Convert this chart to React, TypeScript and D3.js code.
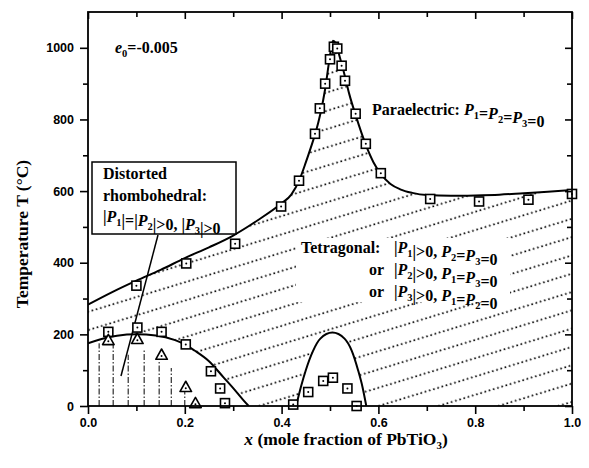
import React, { useEffect, useRef } from "react";
import * as d3 from "d3";

// upper transition line (paraelectric boundary), x, T
const upperX = [0, 0.05, 0.1, 0.15, 0.2, 0.25, 0.3, 0.35, 0.4, 0.42, 0.437, 0.45, 0.46, 0.47, 0.48, 0.49, 0.498, 0.506, 0.512, 0.52, 0.53, 0.54, 0.553, 0.574, 0.59, 0.605, 0.625, 0.645, 0.67, 0.7, 0.75, 0.8, 0.85, 0.9, 0.95, 1.0];
const upperT = [283, 318, 350, 380, 413, 443, 476, 518, 566, 590, 632, 680, 720, 762, 815, 885, 960, 1020, 1012, 975, 925, 870, 812, 729, 680, 648, 620, 605, 595, 589, 587, 588, 590, 594, 598, 603];

// rhombohedral boundary (left), x, T
const rhomboX = [0, 0.03, 0.06, 0.1, 0.14, 0.18, 0.2, 0.22, 0.25, 0.28, 0.3, 0.32, 0.332];
const rhomboT = [175, 188, 196, 200, 197, 184, 172, 155, 125, 80, 50, 18, 0];

// second bump around x=0.5
const bumpX = [0.43, 0.44, 0.45, 0.465, 0.48, 0.505, 0.53, 0.545, 0.558, 0.567, 0.575];
const bumpT = [0, 54, 100, 154, 188, 205, 188, 154, 100, 54, 0];

// simulated points (squares)
const sqX = [0.1, 0.203, 0.304, 0.399, 0.436, 0.469, 0.479, 0.49, 0.5, 0.508, 0.515, 0.524, 0.531, 0.553, 0.574, 0.605, 0.707, 0.808, 0.91, 1.0,
  0.042, 0.102, 0.152, 0.202, 0.254, 0.273, 0.283,
  0.424, 0.455, 0.486, 0.506, 0.536, 0.555];
const sqT = [336, 398, 453, 557, 629, 760, 831, 900, 968, 1003, 998, 950, 908, 816, 732, 650, 578, 571, 576, 592,
  207, 219, 207, 172, 97, 49, 8,
  4, 39, 70, 79, 49, 0];

// triangles
const triX = [0.042, 0.102, 0.152, 0.202, 0.222];
const triT = [182, 185, 141, 51, 6];

// vertical dash-dot lines in the rhombohedral region
const vertX = [0.023, 0.052, 0.083, 0.116, 0.147, 0.172, 0.2];
const vertTop = [175, 175, 143, 157, 128, 106, 39];

const xMajor = [0, 0.2, 0.4, 0.6, 0.8, 1.0];
const xMinor = [0.1, 0.3, 0.5, 0.7, 0.9];
const yMajor = [0, 200, 400, 600, 800, 1000];
const yMinor = [100, 300, 500, 700, 900];

const serif = "'Liberation Serif', 'Times New Roman', serif";
const sans = "'Liberation Sans', Arial, sans-serif";

export default function App() {
  const svgRef = useRef<SVGSVGElement>(null);

  useEffect(() => {
    const width = 589;
    const height = 468;
    const svg = d3.select(svgRef.current).attr("width", width).attr("height", height);
    svg.selectAll("*").remove();

    const xScale = d3.scaleLinear().domain([0, 1]).range([88, 572]);
    const yScale = d3.scaleLinear().domain([0, 1100]).range([406, 12]);

    const upper = upperX.map((x, i) => ({ x, t: upperT[i] }));
    const rhombo = rhomboX.map((x, i) => ({ x, t: rhomboT[i] }));
    const bump = bumpX.map((x, i) => ({ x, t: bumpT[i] }));

    const defs = svg.append("defs");
    const pat = defs
      .append("pattern")
      .attr("id", "hatch")
      .attr("patternUnits", "userSpaceOnUse")
      .attr("width", 4.4)
      .attr("height", 17.5)
      .attr("patternTransform", "rotate(-17)");
    pat.append("circle").attr("cx", 2).attr("cy", 9).attr("r", 0.95).attr("fill", "#000");

    const clip = defs.append("clipPath").attr("id", "plotclip");
    clip.append("rect").attr("x", 88).attr("y", 12).attr("width", 484).attr("height", 394);

    const plot = svg.append("g").attr("clip-path", "url(#plotclip)");

    const area = d3
      .area<{ x: number; t: number }>()
      .x((d) => xScale(d.x))
      .y0(yScale(0))
      .y1((d) => yScale(d.t))
      .curve(d3.curveMonotoneX);

    const line = d3
      .line<{ x: number; t: number }>()
      .x((d) => xScale(d.x))
      .y((d) => yScale(d.t))
      .curve(d3.curveMonotoneX);

    // hatched ferroelectric region, then white out the low-T regions
    plot.append("path").datum(upper).attr("d", area).attr("fill", "url(#hatch)");
    plot.append("path").datum(rhombo).attr("d", area).attr("fill", "#fff");
    plot.append("path").datum(bump).attr("d", area).attr("fill", "#fff");

    // clear space behind the tetragonal label
    plot
      .append("rect")
      .attr("x", 296)
      .attr("y", 238)
      .attr("width", 214)
      .attr("height", 64)
      .attr("fill", "#fff");

    // vertical dash-dot lines
    plot
      .selectAll(".vert")
      .data(vertX)
      .enter()
      .append("line")
      .attr("x1", (d) => xScale(d))
      .attr("x2", (d) => xScale(d))
      .attr("y1", yScale(0))
      .attr("y2", (d, i) => yScale(vertTop[i]))
      .attr("stroke", "#000")
      .attr("stroke-width", 1)
      .attr("stroke-dasharray", "6 2 1.5 2");

    [upper, rhombo, bump].forEach((data) => {
      plot
        .append("path")
        .datum(data)
        .attr("d", line)
        .attr("fill", "none")
        .attr("stroke", "#000")
        .attr("stroke-width", 2);
    });

    // arrow from label box
    svg
      .append("line")
      .attr("x1", 158)
      .attr("y1", 235)
      .attr("x2", 121)
      .attr("y2", 376)
      .attr("stroke", "#000")
      .attr("stroke-width", 1.5);

    // squares
    const sq = svg
      .selectAll(".sq")
      .data(sqX)
      .enter()
      .append("g")
      .attr("transform", (d, i) => `translate(${xScale(d)},${yScale(sqT[i])})`);
    sq.append("rect")
      .attr("x", -4.5)
      .attr("y", -4.5)
      .attr("width", 9)
      .attr("height", 9)
      .attr("fill", "#fff")
      .attr("stroke", "#000")
      .attr("stroke-width", 1.6);
    sq.append("circle").attr("r", 1).attr("fill", "#000");

    // triangles
    const tri = svg
      .selectAll(".tri")
      .data(triX)
      .enter()
      .append("g")
      .attr("transform", (d, i) => `translate(${xScale(d)},${yScale(triT[i])})`);
    tri
      .append("path")
      .attr("d", "M0,-6.5L5.8,3.8L-5.8,3.8Z")
      .attr("fill", "#fff")
      .attr("stroke", "#000")
      .attr("stroke-width", 1.6)
      .attr("stroke-linejoin", "round");
    tri.append("circle").attr("cy", 0.5).attr("r", 1).attr("fill", "#000");

    // frame
    svg
      .append("rect")
      .attr("x", 88)
      .attr("y", 12)
      .attr("width", 484)
      .attr("height", 394)
      .attr("fill", "none")
      .attr("stroke", "#000")
      .attr("stroke-width", 1.8);

    const styleAxis = (g: any) => {
      g.select(".domain").remove();
      g.selectAll("line").attr("stroke", "#000").attr("stroke-width", 1.6);
      g.selectAll("text")
        .attr("fill", "#000")
        .style("font-family", sans)
        .style("font-weight", "bold")
        .style("font-size", "12.5px");
    };

    // bottom
    svg
      .append("g")
      .attr("transform", `translate(0,${yScale(0)})`)
      .call(d3.axisBottom(xScale).tickValues(xMajor).tickSize(8).tickPadding(4).tickFormat(d3.format(".1f")))
      .call(styleAxis);
    svg
      .append("g")
      .attr("transform", `translate(0,${yScale(0)})`)
      .call(d3.axisBottom(xScale).tickValues(xMinor).tickSize(5).tickFormat(() => ""))
      .call(styleAxis);
    // top (inward)
    svg
      .append("g")
      .attr("transform", `translate(0,12)`)
      .call(d3.axisBottom(xScale).tickValues(xMajor).tickSize(7).tickFormat(() => ""))
      .call(styleAxis);
    svg
      .append("g")
      .attr("transform", `translate(0,12)`)
      .call(d3.axisBottom(xScale).tickValues(xMinor).tickSize(5).tickFormat(() => ""))
      .call(styleAxis);
    // left
    svg
      .append("g")
      .attr("transform", `translate(88,0)`)
      .call(d3.axisLeft(yScale).tickValues(yMajor).tickSize(8).tickPadding(6).tickFormat(d3.format("d")))
      .call(styleAxis);
    svg
      .append("g")
      .attr("transform", `translate(88,0)`)
      .call(d3.axisLeft(yScale).tickValues(yMinor).tickSize(5).tickFormat(() => ""))
      .call(styleAxis);
    // right (inward)
    svg
      .append("g")
      .attr("transform", `translate(572,0)`)
      .call(d3.axisLeft(yScale).tickValues(yMajor).tickSize(7).tickFormat(() => ""))
      .call(styleAxis);
    svg
      .append("g")
      .attr("transform", `translate(572,0)`)
      .call(d3.axisLeft(yScale).tickValues(yMinor).tickSize(5).tickFormat(() => ""))
      .call(styleAxis);

    // axis titles
    svg
      .append("text")
      .attr("transform", "translate(28,234) rotate(-90)")
      .attr("text-anchor", "middle")
      .style("font-family", serif)
      .style("font-weight", "bold")
      .style("font-size", "17.5px")
      .text("Temperature T (°C)");

    const xt = svg
      .append("text")
      .attr("x", 346)
      .attr("y", 445)
      .attr("text-anchor", "middle")
      .style("font-family", serif)
      .style("font-weight", "bold")
      .style("font-size", "17.5px");
    xt.append("tspan").style("font-style", "italic").text("x");
    xt.append("tspan").text(" (mole fraction of PbTiO");
    xt.append("tspan").attr("dy", 4).style("font-size", "11px").text("3");
    xt.append("tspan").attr("dy", -4).text(")");

    const txt = (x: number, y: number) =>
      svg
        .append("text")
        .attr("x", x)
        .attr("y", y)
        .style("font-family", serif)
        .style("font-weight", "bold")
        .style("font-size", "16px");

    // write a string where "P1" etc. become italic P with subscripts
    const rich = (t: any, s: string) => {
      const parts = s.split(/(P\d)/);
      parts.forEach((p) => {
        if (/^P\d$/.test(p)) {
          t.append("tspan").style("font-style", "italic").text("P");
          t.append("tspan").attr("dy", 4).style("font-size", "10.5px").text(p[1]);
          t.append("tspan").attr("dy", -4).text("");
        } else if (p.length) {
          t.append("tspan").text(p);
        }
      });
    };

    const e0 = txt(115, 53);
    e0.append("tspan").style("font-style", "italic").text("e");
    e0.append("tspan").attr("dy", 4).style("font-size", "10.5px").text("0");
    e0.append("tspan").attr("dy", -4).text("=-0.005");

    rich(txt(372, 115), "Paraelectric: P1=P2=P3=0");

    rich(txt(301, 253), "Tetragonal:");
    rich(txt(394, 253), "|P1|>0, P2=P3=0");
    rich(txt(369, 275), "or");
    rich(txt(394, 275), "|P2|>0, P1=P3=0");
    rich(txt(369, 297), "or");
    rich(txt(394, 297), "|P3|>0, P1=P2=0");

    // label box
    svg
      .append("rect")
      .attr("x", 92)
      .attr("y", 162)
      .attr("width", 144)
      .attr("height", 72)
      .attr("fill", "#fff")
      .attr("stroke", "#000")
      .attr("stroke-width", 1.5);
    rich(txt(103, 179), "Distorted");
    rich(txt(103, 201), "rhombohedral:");
    rich(txt(103, 222), "|P1|=|P2|>0, |P3|>0");
  }, []);

  return (
    <div style={{ margin: -8 }}>
      <svg ref={svgRef}></svg>
    </div>
  );
}
